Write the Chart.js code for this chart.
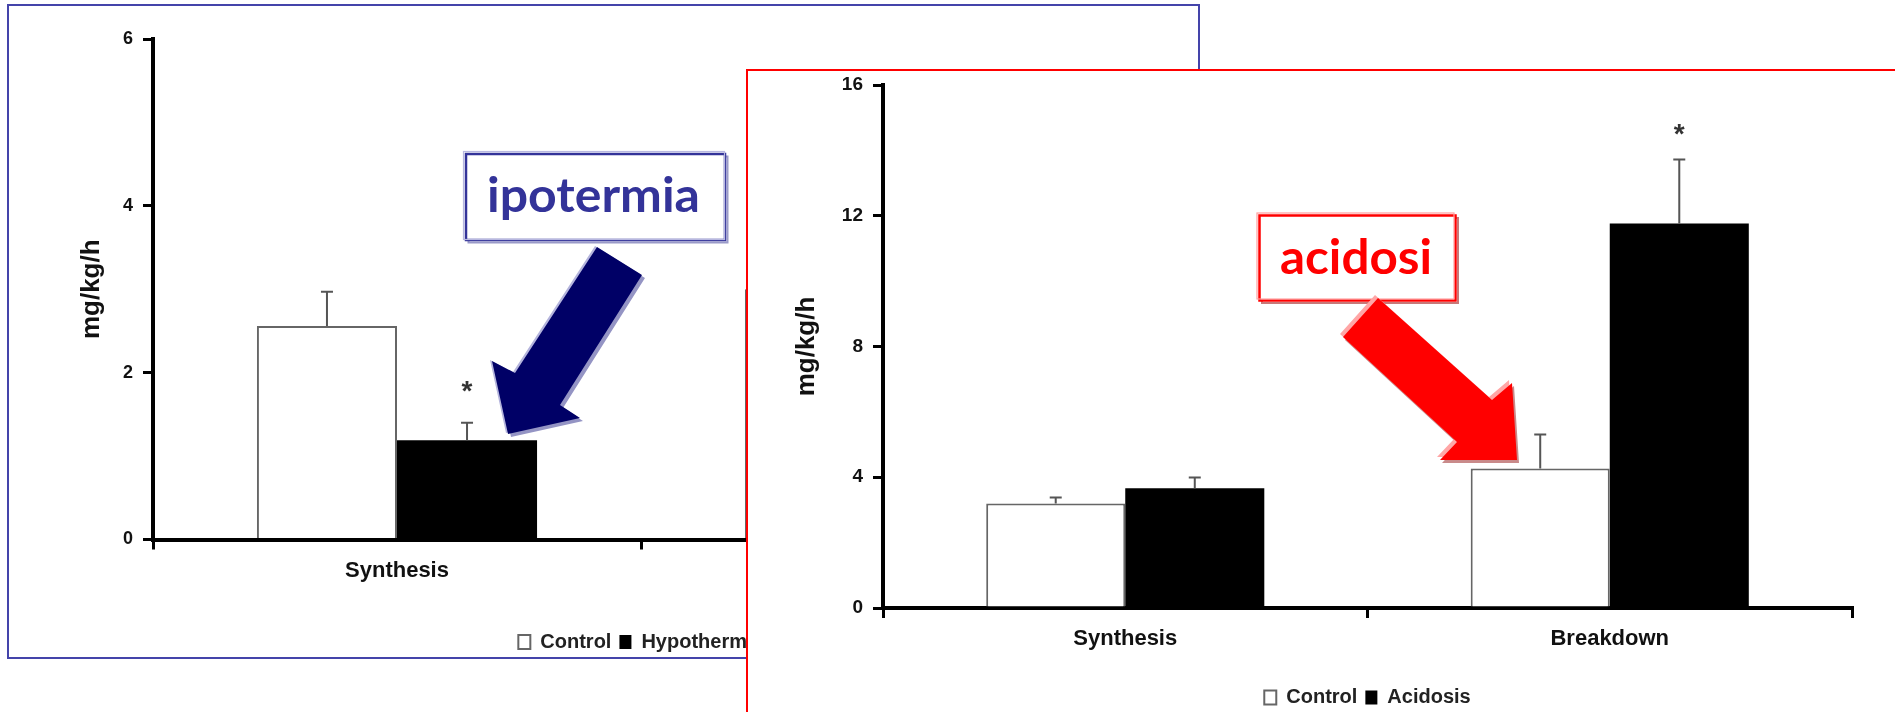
<!DOCTYPE html>
<html>
<head>
<meta charset="utf-8">
<script src="https://cdn.jsdelivr.net/npm/chart.js@4.4.1/dist/chart.umd.min.js"></script>
<style>
  html, body { margin: 0; padding: 0; background: #fff; width: 1895px; height: 712px; overflow: hidden; }
  .panel { position: absolute; background: #fff; overflow: hidden; }
  #hypoPanel { left: 7px; top: 4px; width: 1189px; height: 651px; border: 2px solid #4444aa; z-index: 1; }
  #acidPanel { left: 746px; top: 69px; width: 1300px; height: 700px; border: 2px solid #ff0000; z-index: 3; }
  .panel canvas { position: absolute; left: 0; top: 0; }
  svg.callout { position: absolute; left: 0; top: 0; overflow: visible; }
</style>
</head>
<body>

<div class="panel" id="hypoPanel"><canvas id="hypoChart" width="1189" height="670"></canvas></div>

<svg class="callout" width="1895" height="712" style="z-index:2">
  <rect x="468.5" y="156.5" width="259" height="86" fill="none" stroke="#9a9ac8" stroke-width="2"/>
  <rect x="466" y="154" width="259" height="86" fill="#fff" stroke="#333399" stroke-width="2.5"/>
  <rect x="463.5" y="151.5" width="261" height="88" fill="none" stroke="#b8b8e0" stroke-width="1.2"/>
  <text x="487" y="212" textLength="213" lengthAdjust="spacingAndGlyphs"
        font-family="Lato, 'Open Sans', sans-serif" font-weight="700" font-size="48" fill="#333399">ipotermia</text>
  <g>
    <polygon transform="translate(3,3)" fill="#9494c4"
             points="597,247 642,275 560,405 580,418 508,434 492,361 515,373"/>
    <polygon transform="translate(-2,-1)" fill="#b4b4dc"
             points="597,247 642,275 560,405 580,418 508,434 492,361 515,373"/>
    <polygon fill="#000066"
             points="597,247 642,275 560,405 580,418 508,434 492,361 515,373"/>
  </g>
</svg>

<div class="panel" id="acidPanel"><canvas id="acidChart" width="1147" height="660"></canvas></div>

<svg class="callout" width="1895" height="712" style="z-index:4">
  <rect x="1262" y="218" width="196" height="85" fill="none" stroke="#c87878" stroke-width="2"/>
  <rect x="1259.5" y="215.5" width="196" height="85" fill="#fff" stroke="#ff0000" stroke-width="2.5"/>
  <rect x="1257" y="213" width="197" height="86" fill="none" stroke="#ffa0a0" stroke-width="1.2"/>
  <text x="1280" y="274" textLength="152" lengthAdjust="spacingAndGlyphs"
        font-family="Lato, 'Open Sans', sans-serif" font-weight="700" font-size="48" fill="#ff0000">acidosi</text>
  <g>
    <polygon transform="translate(2,3)" fill="#c98a8a"
             points="1378,298 1492,400 1512,383 1517,460 1440,460 1457,442 1343,337"/>
    <polygon transform="translate(-3,-3)" fill="#ffa6a6"
             points="1378,298 1492,400 1512,383 1517,460 1440,460 1457,442 1343,337"/>
    <polygon fill="#ff0000"
             points="1378,298 1492,400 1512,383 1517,460 1440,460 1457,442 1343,337"/>
  </g>
</svg>

<script>
// ---- Hypothermia panel data (mg/kg/h, mean and SEM) ----
const hypoCategories = ['Synthesis', 'Breakdown'];
const hypoControl = [2.56, 3.0];
const hypoControlSem = [0.41, 0.3];
const hypoCold = [1.19, 2.0];
const hypoColdSem = [0.21, 0.3];
const hypoColdStar = [true, false];
const hypoControlStar = [false, false];
const hypoYTicks = { min: 0, max: 6, step: 2 };

// ---- Acidosis panel data (mg/kg/h, mean and SEM) ----
const acidCategories = ['Synthesis', 'Breakdown'];
const acidControl = [3.2, 4.27];
const acidControlSem = [0.18, 1.04];
const acidAcid = [3.66, 11.76];
const acidAcidSem = [0.33, 1.96];
const acidAcidStar = [false, true];
const acidControlStar = [false, false];
const acidYTicks = { min: 0, max: 16, step: 4 };

const FONT = '"Liberation Sans", Arial, Helvetica, sans-serif';

// Upward SEM whiskers with a cap, plus "*" significance marks above them
function whiskerPlugin(semSets, starSets, starGap) {
  return {
    id: 'semWhiskers',
    afterDatasetsDraw(chart) {
      const ctx = chart.ctx;
      const y = chart.scales.y;
      ctx.save();
      chart.data.datasets.forEach((ds, di) => {
        const meta = chart.getDatasetMeta(di);
        meta.data.forEach((bar, i) => {
          const top = y.getPixelForValue(ds.data[i] + semSets[di][i]);
          ctx.strokeStyle = '#555';
          ctx.lineWidth = 2;
          ctx.beginPath();
          ctx.moveTo(bar.x, bar.y);
          ctx.lineTo(bar.x, top);
          ctx.moveTo(bar.x - 6, top);
          ctx.lineTo(bar.x + 6, top);
          ctx.stroke();
          if (starSets[di][i]) {
            ctx.fillStyle = '#333';
            ctx.font = 'bold 28px ' + FONT;
            ctx.textAlign = 'center';
            ctx.textBaseline = 'alphabetic';
            ctx.fillText('*', bar.x, top - starGap + 16);
          }
        });
      });
      ctx.restore();
    }
  };
}

function makeChart(canvasId, cfg) {
  return new Chart(document.getElementById(canvasId), {
    type: 'bar',
    data: {
      labels: cfg.labels,
      datasets: [
        { label: 'Control', data: cfg.control, backgroundColor: '#ffffff', borderColor: '#666666', borderWidth: 2 },
        { label: cfg.treatedName, data: cfg.treated, backgroundColor: '#000000', borderColor: '#000000', borderWidth: 0 }
      ]
    },
    options: {
      responsive: false,
      animation: false,
      devicePixelRatio: 1,
      datasets: { bar: { categoryPercentage: 0.574, barPercentage: 1.0 } },
      layout: { padding: cfg.padding },
      plugins: {
        tooltip: { enabled: false },
        legend: {
          position: 'bottom',
          fullSize: false,
          labels: {
            color: '#222',
            font: { family: FONT, size: 20, weight: 'bold' },
            boxWidth: 12,
            boxHeight: 14,
            padding: 8
          }
        }
      },
      scales: {
        x: {
          offset: true,
          z: 1,
          grid: { display: true, offset: true, drawOnChartArea: false, drawTicks: true, tickLength: 10, color: '#000', lineWidth: 3 },
          border: { display: true, color: '#000', width: 4 },
          ticks: { color: '#111', font: { family: FONT, size: 22, weight: 'bold' }, padding: 8, maxRotation: 0 },
          afterFit: s => { s.height = cfg.xHeight; }
        },
        y: {
          min: cfg.ticks.min,
          max: cfg.ticks.max,
          z: 1,
          ticks: { stepSize: cfg.ticks.step, color: '#111', font: { family: FONT, size: cfg.tickSize, weight: 'bold' }, padding: 10 },
          grid: { drawOnChartArea: false, drawTicks: true, tickLength: 10, color: '#000', lineWidth: 3 },
          border: { display: true, color: '#000', width: 4 },
          title: { display: true, text: 'mg/kg/h', color: '#111', font: { family: FONT, size: 26, weight: 'bold' }, padding: { top: cfg.titlePad, bottom: 0 } },
          afterFit: s => { s.width = cfg.yWidth; s.paddingTop = 0; s.paddingBottom = 0; }
        }
      }
    },
    plugins: [whiskerPlugin(cfg.sems, cfg.stars, cfg.starGap)]
  });
}

makeChart('hypoChart', {
  labels: hypoCategories,
  control: hypoControl,
  treated: hypoCold,
  treatedName: 'Hypothermia',
  sems: [hypoControlSem, hypoColdSem],
  stars: [hypoControlStar, hypoColdStar],
  starGap: 39,
  ticks: hypoYTicks,
  tickSize: 18,
  padding: { left: 0, top: 33, right: 69, bottom: 14 },
  xHeight: 84.5,
  yWidth: 144,
  titlePad: 67.4
});

makeChart('acidChart', {
  labels: acidCategories,
  control: acidControl,
  treated: acidAcid,
  treatedName: 'Acidosis',
  sems: [acidControlSem, acidAcidSem],
  stars: [acidControlStar, acidAcidStar],
  starGap: 33,
  ticks: acidYTicks,
  tickSize: 19,
  padding: { left: 0, top: 14, right: 43, bottom: 13.5 },
  xHeight: 71.5,
  yWidth: 135,
  titlePad: 43.4
});
</script>
</body>
</html>
